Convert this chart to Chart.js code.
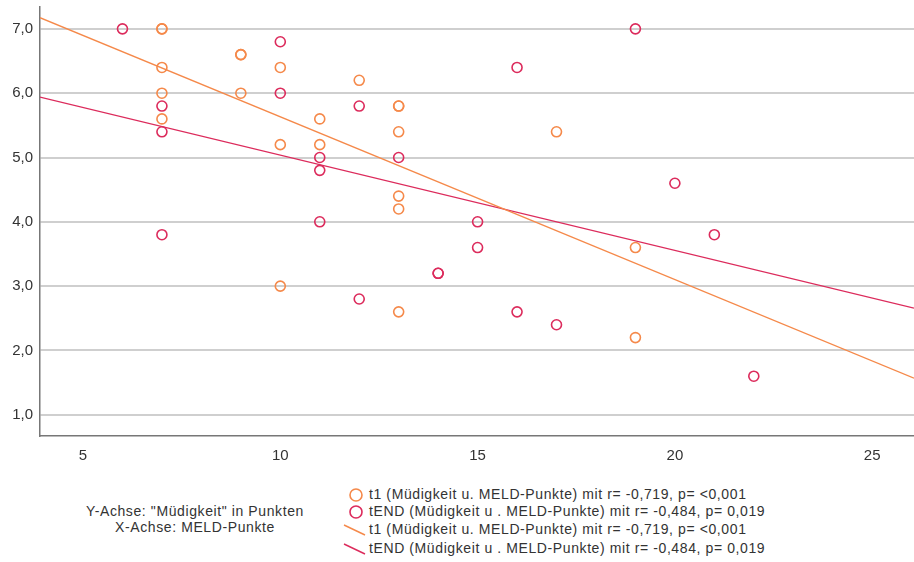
<!DOCTYPE html>
<html>
<head>
<meta charset="utf-8">
<script src="https://cdn.jsdelivr.net/npm/chart.js@4"></script>
<style>
    body { margin: 0; background: #fff; font-family: "Liberation Sans", Arial, sans-serif; }
    #wrap { position: relative; width: 914px; height: 562px; }
    #chart { position: absolute; left: 0; top: 0; }
    .axisnote { position: absolute; left: 45px; width: 300px; text-align: center; font-size: 14px; letter-spacing: 0.6px; color: #333; }
    .leg { position: absolute; left: 342px; font-size: 14px; letter-spacing: 0.6px; color: #333; white-space: nowrap; height: 17px; line-height: 17px; }
    .leg svg { vertical-align: middle; margin-right: 3px; }
</style>
</head>
<body>
<div id="wrap">
    <canvas id="chart" width="914" height="470"></canvas>
    <div class="axisnote" style="top:503px">Y-Achse: "Müdigkeit" in Punkten</div>
    <div class="axisnote" style="top:519px">X-Achse: MELD-Punkte</div>
    <div id="legend"></div>
</div>
<script>
// Axis ticks
const xTicks = [5, 10, 15, 20, 25];
const yTicks = [1, 2, 3, 4, 5, 6, 7];

// t1: MELD-Punkte / Müdigkeit
const t1X = [7, 7, 7, 7, 7, 9, 9, 9, 10, 10, 10, 11, 11, 12, 13, 13, 13, 13, 13, 13, 17, 19, 19];
const t1Y = [7.0, 7.0, 6.4, 6.0, 5.6, 6.6, 6.6, 6.0, 6.4, 5.2, 3.0, 5.6, 5.2, 6.2, 5.8, 5.8, 5.4, 4.4, 4.2, 2.6, 5.4, 3.6, 2.2];

// tEND
const tEndX = [6, 7, 7, 7, 10, 10, 11, 11, 11, 12, 12, 13, 14, 14, 15, 15, 16, 16, 17, 19, 20, 21, 22];
const tEndY = [7.0, 5.8, 5.4, 3.8, 6.8, 6.0, 5.0, 4.8, 4.0, 5.8, 2.8, 5.0, 3.2, 3.2, 4.0, 3.6, 6.4, 2.6, 2.4, 7.0, 4.6, 3.8, 1.6];

const legendLabels = [
    't1 (Müdigkeit u. MELD-Punkte) mit r= -0,719, p= <0,001',
    'tEND (Müdigkeit u . MELD-Punkte) mit r= -0,484, p= 0,019'
];

const xMin = 3.91, xMax = 26.06;
const orange = '#f5894a';
const red = '#dc2b5c';

function fitLine(xs, ys) {
    const n = xs.length;
    const mx = xs.reduce((a, b) => a + b, 0) / n;
    const my = ys.reduce((a, b) => a + b, 0) / n;
    let sxy = 0, sxx = 0;
    for (let i = 0; i < n; i++) {
        sxy += (xs[i] - mx) * (ys[i] - my);
        sxx += (xs[i] - mx) * (xs[i] - mx);
    }
    const b = sxy / sxx;
    const a = my - b * mx;
    return [{ x: xMin, y: a + b * xMin }, { x: xMax, y: a + b * xMax }];
}

function toPoints(xs, ys) {
    return xs.map((x, i) => ({ x: x, y: ys[i] }));
}

const fmt = v => v.toFixed(1).replace('.', ',');
const tickFont = { size: 15, family: '"Liberation Sans", Arial, sans-serif' };

new Chart(document.getElementById('chart'), {
    type: 'scatter',
    data: {
        datasets: [
            {
                label: legendLabels[0],
                data: toPoints(t1X, t1Y),
                borderColor: orange,
                backgroundColor: 'transparent',
                borderWidth: 1.6,
                pointRadius: 5,
                pointHoverRadius: 5
            },
            {
                label: legendLabels[1],
                data: toPoints(tEndX, tEndY),
                borderColor: red,
                backgroundColor: 'transparent',
                borderWidth: 1.6,
                pointRadius: 5,
                pointHoverRadius: 5
            },
            {
                type: 'line',
                label: legendLabels[0],
                data: fitLine(t1X, t1Y),
                borderColor: orange,
                borderWidth: 1.3,
                pointRadius: 0,
                fill: false
            },
            {
                type: 'line',
                label: legendLabels[1],
                data: fitLine(tEndX, tEndY),
                borderColor: red,
                borderWidth: 1.3,
                pointRadius: 0,
                fill: false
            }
        ]
    },
    options: {
        responsive: false,
        animation: false,
        layout: { autoPadding: false, padding: { top: 7, right: 0, left: 0, bottom: 0 } },
        plugins: {
            legend: { display: false },
            tooltip: { enabled: false }
        },
        scales: {
            x: {
                type: 'linear',
                min: xMin,
                max: xMax,
                afterBuildTicks: axis => { axis.ticks = xTicks.map(v => ({ value: v })); },
                afterFit: axis => { axis.height = 34; axis.paddingLeft = 0; axis.paddingRight = 0; },
                grid: { display: false },
                border: { display: true, color: '#777', width: 1.5 },
                ticks: {
                    padding: 3,
                    color: '#333',
                    font: tickFont,
                    callback: v => String(v)
                }
            },
            y: {
                type: 'linear',
                min: 0.67,
                max: 7.34,
                afterBuildTicks: axis => { axis.ticks = yTicks.map(v => ({ value: v })); },
                afterFit: axis => { axis.width = 40; axis.paddingTop = 0; axis.paddingBottom = 0; },
                grid: { color: '#cfcfcf', lineWidth: 2, drawTicks: false },
                border: { display: true, color: '#777', width: 1.5 },
                ticks: {
                    padding: 7,
                    color: '#333',
                    font: tickFont,
                    callback: v => fmt(v)
                }
            }
        }
    }
});

// Legend below the chart
const legend = document.getElementById('legend');
const rows = [
    { top: 486, color: orange, kind: 'circle', text: legendLabels[0] },
    { top: 503, color: red, kind: 'circle', text: legendLabels[1] },
    { top: 521, color: orange, kind: 'line', text: legendLabels[0] },
    { top: 540, color: red, kind: 'line', text: legendLabels[1] }
];
rows.forEach(r => {
    const icon = r.kind === 'circle'
        ? `<svg width="24" height="16"><circle cx="14" cy="8" r="6" fill="none" stroke="${r.color}" stroke-width="1.6"/></svg>`
        : `<svg width="24" height="16"><line x1="2" y1="3" x2="23" y2="13" stroke="${r.color}" stroke-width="1.4"/></svg>`;
    legend.insertAdjacentHTML('beforeend',
        `<div class="leg" style="top:${r.top}px">${icon}${r.text}</div>`);
});
</script>
</body>
</html>
